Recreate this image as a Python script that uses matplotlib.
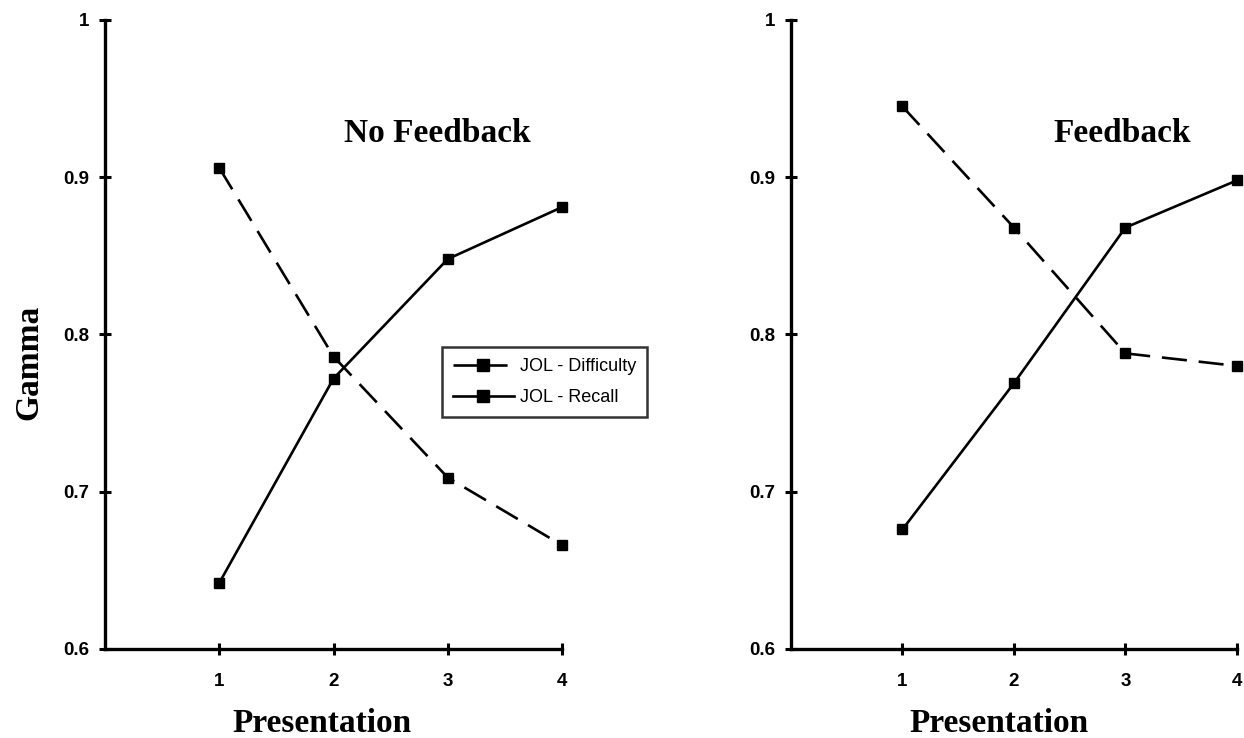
import matplotlib.pyplot as plt
from matplotlib.lines import Line2D

presentation = [1, 2, 3, 4]

# gamma correlations, no-feedback condition
nofb_difficulty = [0.906, 0.786, 0.709, 0.666]
nofb_recall = [0.642, 0.772, 0.848, 0.881]

# gamma correlations, feedback condition
fb_difficulty = [0.945, 0.868, 0.788, 0.780]
fb_recall = [0.676, 0.769, 0.868, 0.898]

y_ticks = [0.6, 0.7, 0.8, 0.9, 1.0]
y_tick_labels = ["0.6", "0.7", "0.8", "0.9", "1"]
panel_titles = ["No Feedback", "Feedback"]
legend_labels = ["JOL - Difficulty", "JOL - Recall"]

SERIF = "Liberation Serif"
SANS = "Liberation Sans"
DASH = (0, (9.5, 4.5))


def style_axis(ax):
    ax.set_xlim(0, 4)
    ax.set_ylim(0.6, 1.0)
    for side in ("top", "right"):
        ax.spines[side].set_visible(False)
    for side in ("left", "bottom"):
        ax.spines[side].set_linewidth(2.4)
    ax.set_xticks(presentation)
    ax.set_xticklabels([str(p) for p in presentation])
    ax.set_yticks(y_ticks)
    ax.set_yticklabels(y_tick_labels)
    ax.tick_params(direction="inout", length=9, width=2.2)
    ax.tick_params(axis="x", pad=13)
    ax.tick_params(axis="y", pad=7)
    for lab in ax.get_xticklabels() + ax.get_yticklabels():
        lab.set_fontfamily(SANS)
        lab.set_fontweight("bold")
        lab.set_fontsize(13.5)
    ax.set_xlabel("Presentation", fontfamily=SERIF, fontweight="bold",
                  fontsize=24)


def draw_panel(ax, difficulty, recall):
    ax.plot(presentation, difficulty, color="black", lw=1.9,
            linestyle=DASH, marker="s", markersize=7.5, clip_on=False)
    ax.plot(presentation, recall, color="black", lw=1.9,
            linestyle="-", marker="s", markersize=7.5, clip_on=False)
    style_axis(ax)


fig = plt.figure(figsize=(12.44, 7.38), dpi=100)
ax_left = fig.add_axes([0.0844, 0.1206, 0.3674, 0.8523])
ax_right = fig.add_axes([0.6358, 0.1206, 0.3585, 0.8523])

draw_panel(ax_left, nofb_difficulty, nofb_recall)
draw_panel(ax_right, fb_difficulty, fb_recall)

ax_left.xaxis.set_label_coords(0.475, -0.094)
ax_right.xaxis.set_label_coords(0.466, -0.094)

ax_left.set_ylabel("Gamma", fontfamily=SERIF, fontweight="bold", fontsize=24)
ax_left.yaxis.set_label_coords(-0.132, 0.455)

ax_left.text(0.727, 0.819, panel_titles[0], transform=ax_left.transAxes,
             ha="center", va="center", fontfamily=SERIF,
             fontweight="bold", fontsize=24)
ax_right.text(0.742, 0.819, panel_titles[1], transform=ax_right.transAxes,
              ha="center", va="center", fontfamily=SERIF,
              fontweight="bold", fontsize=24)

handles = [
    Line2D([], [], color="black", lw=1.9, linestyle=(0, (11, 2.5, 7, 6)),
           marker="s", markersize=8),
    Line2D([], [], color="black", lw=1.9, linestyle="-",
           marker="s", markersize=8),
]
leg = ax_left.legend(handles, legend_labels, loc="upper left",
                     bbox_to_anchor=(0.737, 0.480), borderaxespad=0,
                     frameon=True, fancybox=False, handlelength=3.4,
                     handletextpad=0.35, borderpad=0.6, labelspacing=0.8,
                     prop={"family": SANS, "size": 13})
leg.get_frame().set_edgecolor("black")
leg.get_frame().set_linewidth(1.8)
leg.set_clip_on(False)

fig.savefig("out.png", dpi=100)
